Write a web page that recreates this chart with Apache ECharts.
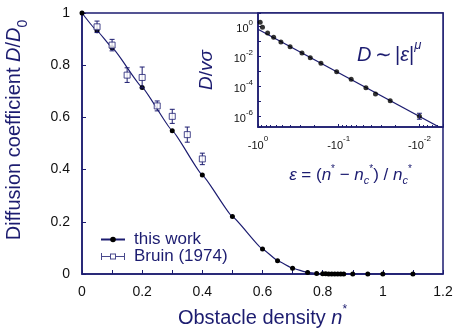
<!DOCTYPE html>
<html>
<head>
<meta charset="utf-8">
<script src="https://cdn.jsdelivr.net/npm/echarts@6/dist/echarts.min.js"></script>
<style>
  html, body { margin: 0; padding: 0; background: #fff; }
  #chart { width: 457px; height: 328px; }
</style>
</head>
<body>
<div id="chart"></div>
<script>
// Simulation results: reduced diffusion coefficient vs. obstacle density
const densityThisWork = [0, 0.05, 0.1, 0.2, 0.3, 0.4, 0.5, 0.6, 0.65, 0.7, 0.75, 0.78, 0.8, 0.81, 0.82, 0.83, 0.84, 0.85, 0.86, 0.87, 0.9, 0.95, 1.0, 1.1];
const diffThisWork = [1, 0.932, 0.867, 0.715, 0.549, 0.379, 0.220, 0.096, 0.051, 0.022, 0.006, 0.002, 0.001, 0.0005, 0.0002, 0.0001, 0, 0, 0, 0, 0, 0, 0, 0];

// Bruin (1974) reference measurements with error bars
const densityBruin = [0.05, 0.1, 0.15, 0.2, 0.25, 0.3, 0.35, 0.4];
const diffBruin = [0.947, 0.877, 0.762, 0.753, 0.644, 0.604, 0.534, 0.441];
const errBruin = [0.022, 0.022, 0.028, 0.040, 0.019, 0.027, 0.029, 0.022];

// Inset: D/(v sigma) against the separation parameter epsilon
const epsInset = [-0.94, -0.88, -0.76, -0.64, -0.52, -0.40, -0.285, -0.225, -0.166, -0.106, -0.070, -0.046, -0.035, -0.023, -0.010];
const dInset = [1.96, 0.91, 0.38, 0.196, 0.0955, 0.0464, 0.0177, 0.00858, 0.00363, 0.001, 3.1e-4, 8.6e-5, 3.3e-5, 1.17e-5, 1.06e-6];
// error bar on the closest point: [epsilon, lower, upper]
const insetErr = [[-0.010, 6.8e-7, 1.7e-6]];
// power-law fit D ~ |eps|^mu, end points
const fitEps = [-1, -0.005];
const fitD = [0.67, 1.4e-7];

// Axis tick values
const mainXTicks = { min: 0, max: 1.2, interval: 0.2 };
const mainYTicks = { min: 0, max: 1, interval: 0.2 };

const NAVY = '#1c1c70';
const FONT = '"Liberation Sans", Arial, Helvetica, sans-serif';

const tickRich = {
  b: { fontSize: 11, lineHeight: 16, verticalAlign: 'bottom', color: '#111', fontFamily: FONT },
  s: { fontSize: 8, lineHeight: 8, verticalAlign: 'top', color: '#111', fontFamily: FONT }
};

// power-of-ten labels; `even` keeps only even exponents
function powerLabel(sign, even) {
  return function (v) {
    const e = Math.log10(v);
    const r = Math.round(e);
    if (Math.abs(e - r) > 1e-6) return '';
    if (even && r % 2 !== 0) return '';
    return '{b|' + sign + '10}{s|' + r + '}';
  };
}

function errorBars(capHalf) {
  return function (params, api) {
    const x = api.value(0);
    const lo = api.value(1);
    const hi = api.value(2);
    const pTop = api.coord([x, hi]);
    const pBot = api.coord([x, lo]);
    const st = { stroke: NAVY, lineWidth: 1 };
    return {
      type: 'group',
      children: [
        { type: 'line', shape: { x1: pTop[0], y1: pTop[1], x2: pBot[0], y2: pBot[1] }, style: st },
        { type: 'line', shape: { x1: pTop[0] - capHalf, y1: pTop[1], x2: pTop[0] + capHalf, y2: pTop[1] }, style: st },
        { type: 'line', shape: { x1: pBot[0] - capHalf, y1: pBot[1], x2: pBot[0] + capHalf, y2: pBot[1] }, style: st }
      ]
    };
  };
}

const chart = echarts.init(document.getElementById('chart'), null, { renderer: 'canvas' });

const option = {
  animation: false,
  backgroundColor: '#fff',
  textStyle: { fontFamily: FONT },
  grid: [
    { left: 82, top: 13, right: 14, bottom: 54, show: true, borderColor: NAVY, borderWidth: 1.5,
      backgroundColor: 'transparent', containLabel: false, outerBoundsMode: 'none' },
    { left: 258, top: 13, right: 14, bottom: 201, show: true, borderColor: NAVY, borderWidth: 1.5,
      backgroundColor: '#fff', containLabel: false, outerBoundsMode: 'none' }
  ],
  xAxis: [
    {
      gridIndex: 0, type: 'value',
      min: mainXTicks.min, max: mainXTicks.max, interval: mainXTicks.interval,
      axisLine: { lineStyle: { color: NAVY, width: 1.5 } },
      axisTick: { inside: true, length: 4, lineStyle: { color: NAVY } },
      minorTick: { show: true, splitNumber: 2, length: 4, lineStyle: { color: NAVY } },
      splitLine: { show: false },
      axisLabel: { fontSize: 14, color: '#111', margin: 11, fontFamily: FONT,
        formatter: v => (Math.round(v * 10) / 10).toString() },
      name: '{t|Obstacle density }{i|n}{s|*}',
      nameLocation: 'middle', nameGap: 30,
      nameTextStyle: {
        rich: {
          t: { fontSize: 20, color: NAVY, fontFamily: FONT, lineHeight: 24, verticalAlign: 'bottom' },
          i: { fontSize: 20, color: NAVY, fontFamily: FONT, fontStyle: 'italic', lineHeight: 24, verticalAlign: 'bottom' },
          s: { fontSize: 12, color: NAVY, fontFamily: FONT, lineHeight: 12, verticalAlign: 'top' }
        }
      }
    },
    {
      gridIndex: 1, type: 'log', logBase: 10, inverse: true,
      min: 0.0051, max: 1,
      axisLine: { lineStyle: { color: NAVY, width: 1.5 } },
      axisTick: { inside: true, length: 3, lineStyle: { color: NAVY } },
      minorTick: { show: true, splitNumber: 9, length: 2, lineStyle: { color: NAVY } },
      splitLine: { show: false },
      axisLabel: { margin: 8, formatter: powerLabel('-', false), rich: tickRich },
      name: '{i|ε} = ({i|n}{s|*} − {i|n}{c|c}{s|*}) / {i|n}{c|c}{s|*}',
      nameLocation: 'middle', nameGap: 37,
      nameTextStyle: {
        rich: {
          i: { fontSize: 17, color: NAVY, fontFamily: FONT, fontStyle: 'italic', lineHeight: 22, verticalAlign: 'middle' },
          s: { fontSize: 10, color: NAVY, fontFamily: FONT, lineHeight: 10, verticalAlign: 'top' },
          c: { fontSize: 11, color: NAVY, fontFamily: FONT, fontStyle: 'italic', lineHeight: 11, verticalAlign: 'bottom' }
        },
        fontSize: 17, color: NAVY, lineHeight: 22
      }
    }
  ],
  yAxis: [
    {
      gridIndex: 0, type: 'value',
      min: mainYTicks.min, max: mainYTicks.max, interval: mainYTicks.interval,
      axisLine: { lineStyle: { color: NAVY, width: 1.5 } },
      axisTick: { inside: true, length: 4, lineStyle: { color: NAVY } },
      splitLine: { show: false },
      axisLabel: { fontSize: 14, color: '#111', margin: 12, fontFamily: FONT,
        formatter: v => (Math.round(v * 10) / 10).toString() },
      name: '{t|Diffusion coefficient }{i|D}{t|/}{i|D}{sub|0}',
      nameLocation: 'middle', nameGap: 52,
      nameTextStyle: {
        padding: [0, 0, 0, 27],
        rich: {
          t: { fontSize: 20, color: NAVY, fontFamily: FONT, lineHeight: 26, verticalAlign: 'top' },
          i: { fontSize: 20, color: NAVY, fontFamily: FONT, fontStyle: 'italic', lineHeight: 26, verticalAlign: 'top' },
          sub: { fontSize: 14, color: NAVY, fontFamily: FONT, lineHeight: 14, verticalAlign: 'bottom' }
        }
      }
    },
    {
      gridIndex: 1, type: 'log', logBase: 10,
      min: 2.06e-7, max: 8.2,
      axisLine: { lineStyle: { color: NAVY, width: 1.5 } },
      axisTick: { inside: true, length: 3, lineStyle: { color: NAVY } },
      splitLine: { show: false },
      axisLabel: { margin: 5, formatter: powerLabel('', true), rich: tickRich },
      name: '{i|D}{t|/}{i|vσ}',
      nameLocation: 'middle', nameGap: 42,
      nameTextStyle: {
        rich: {
          t: { fontSize: 19, color: NAVY, fontFamily: FONT },
          i: { fontSize: 19, color: NAVY, fontFamily: FONT, fontStyle: 'italic' }
        }
      }
    }
  ],
  legend: {
    orient: 'vertical',
    left: 100, top: 231, padding: 0,
    itemWidth: 24, itemHeight: 7, itemGap: 0,
    textStyle: { fontSize: 17, color: NAVY, fontFamily: FONT, padding: [0, 0, 0, 4] },
    data: [
      { name: 'this work' },
      {
        name: 'Bruin (1974)',
        icon: 'path://M0,0H1V7H0Z M23,0H24V7H23Z M1,3H9V4H1Z M15,3H23V4H15Z M9,0.5H15V1.5H9Z M9,5.5H15V6.5H9Z M9,0.5H10V6.5H9Z M14,0.5H15V6.5H14Z',
        itemStyle: { color: NAVY, borderWidth: 0 }
      }
    ]
  },
  graphic: [
    {
      type: 'text', left: 357, top: 39, z: 10,
      style: {
        text: '{i|D} {t|∼} {t||}{i|ε}{t||}{s|μ}',
        rich: {
          i: { fontSize: 20, fill: NAVY, fontFamily: FONT, fontStyle: 'italic', lineHeight: 26, verticalAlign: 'bottom' },
          t: { fontSize: 20, fill: NAVY, fontFamily: FONT, lineHeight: 26, verticalAlign: 'bottom' },
          s: { fontSize: 13, fill: NAVY, fontFamily: FONT, fontStyle: 'italic', lineHeight: 13, verticalAlign: 'top' }
        }
      }
    }
  ],
  series: [
    {
      name: 'this work', type: 'line', xAxisIndex: 0, yAxisIndex: 0,
      data: densityThisWork.map((n, i) => [n, diffThisWork[i]]),
      smooth: 0.1, smoothMonotone: 'x',
      symbol: 'circle', symbolSize: 5,
      itemStyle: { color: '#000' },
      lineStyle: { color: NAVY, width: 1.2 },
      z: 3
    },
    {
      name: 'Bruin errors', type: 'custom', xAxisIndex: 0, yAxisIndex: 0,
      data: densityBruin.map((n, i) => [n, diffBruin[i] - errBruin[i], diffBruin[i] + errBruin[i]]),
      renderItem: errorBars(2.5),
      z: 4
    },
    {
      name: 'Bruin (1974)', type: 'scatter', xAxisIndex: 0, yAxisIndex: 0,
      data: densityBruin.map((n, i) => [n, diffBruin[i]]),
      symbol: 'rect', symbolSize: 6,
      itemStyle: { color: '#fff', borderColor: NAVY, borderWidth: 1 },
      z: 5
    },
    {
      name: 'fit', type: 'line', xAxisIndex: 1, yAxisIndex: 1,
      data: fitEps.map((e, i) => [Math.abs(e), fitD[i]]),
      symbol: 'none', lineStyle: { color: NAVY, width: 1.2 },
      clip: true, z: 3
    },
    {
      name: 'inset', type: 'scatter', xAxisIndex: 1, yAxisIndex: 1,
      data: epsInset.map((e, i) => [Math.abs(e), dInset[i]]),
      symbol: 'circle', symbolSize: 5,
      itemStyle: { color: '#000' },
      z: 4
    },
    {
      name: 'inset errors', type: 'custom', xAxisIndex: 1, yAxisIndex: 1,
      data: insetErr.map(r => [Math.abs(r[0]), r[1], r[2]]),
      renderItem: errorBars(2.5),
      z: 5
    }
  ]
};

chart.setOption(option);
</script>
</body>
</html>
